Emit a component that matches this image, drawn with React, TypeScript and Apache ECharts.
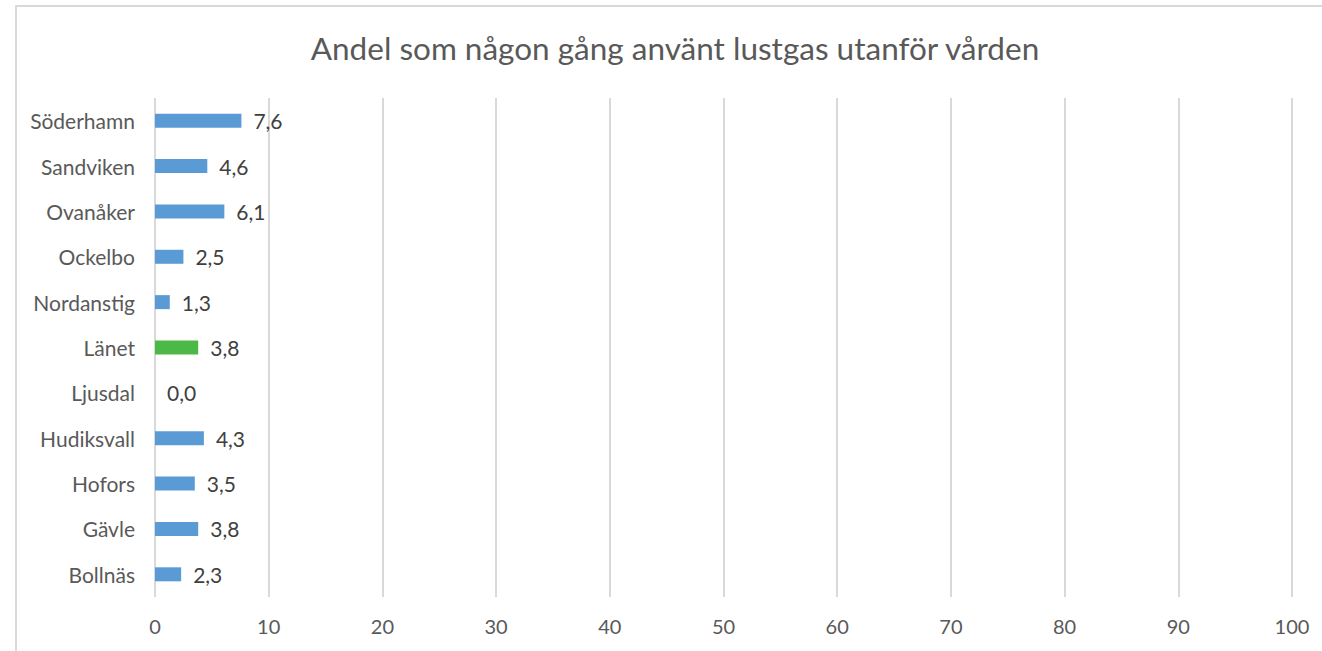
import React, { useEffect, useRef } from "react";
import * as echarts from "echarts";

const categories = ["Bollnäs", "Gävle", "Hofors", "Hudiksvall", "Ljusdal", "Länet", "Nordanstig", "Ockelbo", "Ovanåker", "Sandviken", "Söderhamn"];
const values = [2.3, 3.8, 3.5, 4.3, 0.0, 3.8, 1.3, 2.5, 6.1, 4.6, 7.6];
const highlight = "Länet";
const title = "Andel som någon gång använt lustgas utanför vården";

export default function App() {
  const ref = useRef<HTMLDivElement>(null);
  useEffect(() => {
    document.body.style.margin = "0";
    const chart = echarts.init(ref.current!, null, { renderer: "svg" });
    const font = "Lato";
    chart.setOption({
      animation: false,
      backgroundColor: "#ffffff",
      title: {
        text: title,
        left: 670,
        textAlign: "center",
        top: 27,
        textStyle: { fontFamily: font, fontSize: 31.5, fontWeight: "normal", color: "#595959" },
      },
      graphic: [
        {
          type: "rect",
          shape: { x: 16, y: 6, width: 1400, height: 700 },
          style: { fill: "none", stroke: "#d9d9d9", lineWidth: 2 },
          silent: true,
        },
      ],
      grid: { left: 155, right: 30, top: 98, bottom: 54 },
      xAxis: {
        type: "value",
        min: 0,
        max: 100,
        interval: 10,
        axisLine: { show: false },
        axisTick: { show: false },
        splitLine: { show: true, lineStyle: { color: "#d9d9d9", width: 2 } },
        axisLabel: { fontFamily: font, fontSize: 20, color: "#595959", margin: 19 },
      },
      yAxis: {
        type: "category",
        data: categories,
        axisLine: { show: false },
        axisTick: { show: false },
        axisLabel: { fontFamily: font, fontSize: 21, color: "#595959", margin: 20 },
      },
      series: [
        {
          type: "bar",
          data: categories.map((c, i) => ({
            value: values[i],
            itemStyle: { color: c === highlight ? "#4cb848" : "#5b9bd5" },
          })),
          barWidth: 14,
          label: {
            show: true,
            position: "right",
            distance: 12,
            fontFamily: font,
            fontSize: 21,
            color: "#404040",
            formatter: (p: any) => Number(p.value).toFixed(1).replace(".", ","),
          },
        },
      ],
    });
    return () => chart.dispose();
  }, []);
  return <div ref={ref} style={{ position: "absolute", left: 0, top: 0, width: 1322, height: 651 }} />;
}
